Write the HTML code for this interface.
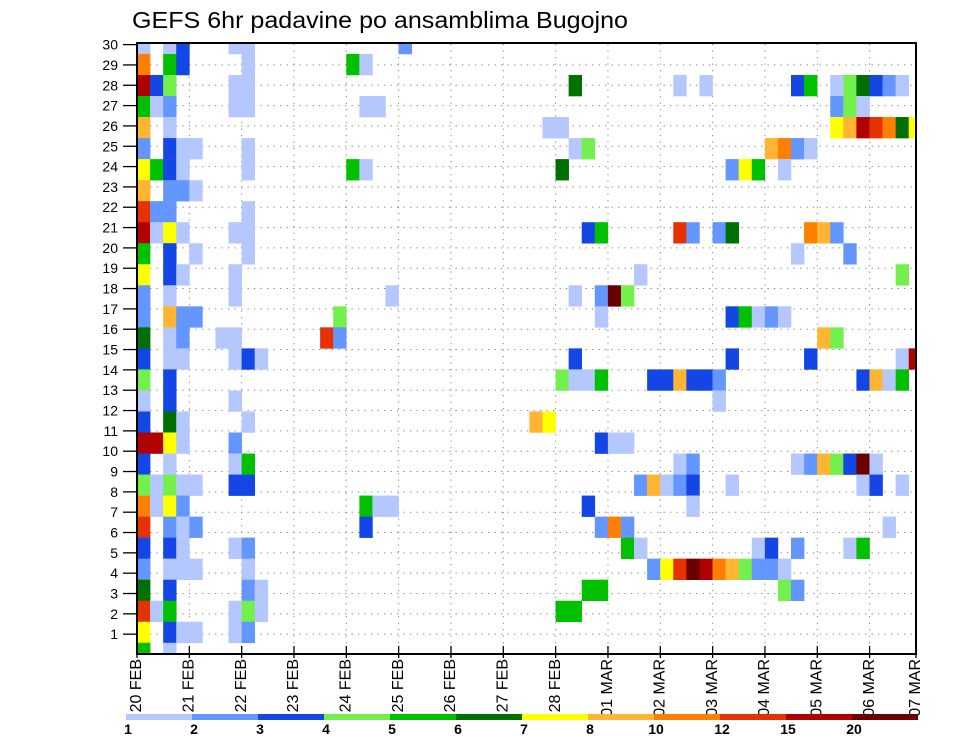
<!DOCTYPE html>
<html><head><meta charset="utf-8"><style>
html,body{margin:0;padding:0;background:#fff;}
svg{display:block;font-family:"Liberation Sans",sans-serif;}
</style></head>
<body>
<svg id="chart" width="960" height="742" viewBox="0 0 960 742" xmlns="http://www.w3.org/2000/svg">
<text x="132" y="28" font-size="23" textLength="496" lengthAdjust="spacingAndGlyphs" fill="#000">GEFS 6hr padavine po ansamblima Bugojno</text>
<defs><clipPath id="plotclip"><rect x="137" y="44" width="779" height="610"/></clipPath></defs>
<g id="grid"></g>
<g id="cellsG" clip-path="url(#plotclip)"></g>
<g id="axes"></g>
<g id="legend"></g>
</svg>
<script>
const dayLabels = ["20 FEB","21 FEB","22 FEB","23 FEB","24 FEB","25 FEB","26 FEB","27 FEB","28 FEB","01 MAR","02 MAR","03 MAR","04 MAR","05 MAR","06 MAR","07 MAR"];
const memberTicks = [1,2,3,4,5,6,7,8,9,10,11,12,13,14,15,16,17,18,19,20,21,22,23,24,25,26,27,28,29,30];
const levelBounds = [1,2,3,4,5,6,7,8,10,12,15,20];
const levelLabels = ["1","2","3","4","5","6","7","8","10","12","15","20"];
const levelColors = ["#b4c8ff","#6496ff","#1446e6","#74f04c","#00c000","#007000","#ffff00","#ffb432","#ff8000","#e63200","#b00000","#6a0000"];
// [member row, 6h step, precip mm]
const cells = [
[29,0,1.5],[29,2,1.5],[29,3,3.5],[29,7,1.5],[29,8,1.5],[29,20,2.5],
[28,0,11],[28,2,5.5],[28,3,3.5],[28,8,1.5],[28,16,5.5],[28,17,1.5],
[27,0,17],[27,1,3.5],[27,2,4.5],[27,7,1.5],[27,8,1.5],[27,33,6.5],[27,41,1.5],[27,43,1.5],[27,50,3.5],[27,51,5.5],[27,53,1.5],[27,54,4.5],[27,55,6.5],[27,56,3.5],[27,57,2.5],[27,58,1.5],
[26,0,5.5],[26,1,1.5],[26,2,2.5],[26,7,1.5],[26,8,1.5],[26,17,1.5],[26,18,1.5],[26,53,2.5],[26,54,4.5],[26,55,1.5],
[25,0,9],[25,2,1.5],[25,31,1.5],[25,32,1.5],[25,53,7.5],[25,54,9],[25,55,17],[25,56,13.5],[25,57,11],[25,58,6.5],[25,59,7.5],
[24,0,2.5],[24,2,3.5],[24,3,1.5],[24,4,1.5],[24,8,1.5],[24,33,1.5],[24,34,4.5],[24,48,9],[24,49,11],[24,50,2.5],[24,51,1.5],
[23,0,7.5],[23,1,5.5],[23,2,3.5],[23,3,1.5],[23,8,1.5],[23,16,5.5],[23,17,1.5],[23,32,6.5],[23,45,2.5],[23,46,7.5],[23,47,5.5],[23,49,1.5],
[22,0,9],[22,2,2.5],[22,3,2.5],[22,4,1.5],
[21,0,13.5],[21,1,2.5],[21,2,2.5],[21,8,1.5],
[20,0,17],[20,1,1.5],[20,2,7.5],[20,3,1.5],[20,7,1.5],[20,8,1.5],[20,34,3.5],[20,35,5.5],[20,41,13.5],[20,42,2.5],[20,44,2.5],[20,45,6.5],[20,51,11],[20,52,9],[20,53,2.5],
[19,0,5.5],[19,2,3.5],[19,4,1.5],[19,8,1.5],[19,50,1.5],[19,54,2.5],
[18,0,7.5],[18,2,3.5],[18,3,1.5],[18,7,1.5],[18,38,1.5],[18,58,4.5],
[17,0,2.5],[17,2,1.5],[17,7,1.5],[17,19,1.5],[17,33,1.5],[17,35,2.5],[17,36,25],[17,37,4.5],
[16,0,2.5],[16,2,9],[16,3,2.5],[16,4,2.5],[16,15,4.5],[16,35,1.5],[16,45,3.5],[16,46,5.5],[16,47,1.5],[16,48,2.5],[16,49,1.5],
[15,0,6.5],[15,2,1.5],[15,3,2.5],[15,6,1.5],[15,7,1.5],[15,14,13.5],[15,15,2.5],[15,52,9],[15,53,4.5],
[14,0,3.5],[14,2,1.5],[14,3,1.5],[14,7,1.5],[14,8,3.5],[14,9,1.5],[14,33,3.5],[14,45,3.5],[14,51,3.5],[14,58,1.5],[14,59,17],
[13,0,4.5],[13,2,3.5],[13,32,4.5],[13,33,1.5],[13,34,1.5],[13,35,5.5],[13,39,3.5],[13,40,3.5],[13,41,9],[13,42,3.5],[13,43,3.5],[13,44,2.5],[13,55,3.5],[13,56,9],[13,57,1.5],[13,58,5.5],
[12,0,1.5],[12,2,3.5],[12,7,1.5],[12,44,1.5],
[11,0,3.5],[11,2,6.5],[11,3,1.5],[11,8,1.5],[11,30,9],[11,31,7.5],
[10,0,17],[10,1,17],[10,2,7.5],[10,3,1.5],[10,7,2.5],[10,35,3.5],[10,36,1.5],[10,37,1.5],
[9,0,3.5],[9,2,1.5],[9,7,1.5],[9,8,5.5],[9,41,1.5],[9,42,2.5],[9,50,1.5],[9,51,2.5],[9,52,9],[9,53,4.5],[9,54,3.5],[9,55,25],[9,56,1.5],
[8,0,4.5],[8,1,1.5],[8,2,4.5],[8,3,1.5],[8,4,1.5],[8,7,3.5],[8,8,3.5],[8,38,2.5],[8,39,9],[8,40,1.5],[8,41,2.5],[8,42,3.5],[8,45,1.5],[8,55,1.5],[8,56,3.5],[8,58,1.5],
[7,0,11],[7,1,1.5],[7,2,7.5],[7,3,2.5],[7,17,5.5],[7,18,1.5],[7,19,1.5],[7,34,3.5],[7,42,1.5],
[6,0,13.5],[6,2,2.5],[6,3,1.5],[6,4,2.5],[6,17,3.5],[6,35,2.5],[6,36,11],[6,37,2.5],[6,57,1.5],
[5,0,3.5],[5,2,3.5],[5,3,1.5],[5,7,1.5],[5,8,2.5],[5,37,5.5],[5,38,1.5],[5,47,1.5],[5,48,3.5],[5,50,2.5],[5,54,1.5],[5,55,5.5],
[4,0,2.5],[4,2,1.5],[4,3,1.5],[4,4,1.5],[4,8,1.5],[4,39,2.5],[4,40,7.5],[4,41,13.5],[4,42,25],[4,43,17],[4,44,11],[4,45,9],[4,46,4.5],[4,47,2.5],[4,48,2.5],[4,49,1.5],
[3,0,6.5],[3,2,3.5],[3,8,2.5],[3,9,1.5],[3,34,5.5],[3,35,5.5],[3,49,4.5],[3,50,2.5],
[2,0,13.5],[2,1,1.5],[2,2,5.5],[2,7,1.5],[2,8,4.5],[2,9,1.5],[2,32,5.5],[2,33,5.5],
[1,0,7.5],[1,2,3.5],[1,3,1.5],[1,4,1.5],[1,7,1.5],[1,8,2.5],
[0,0,5.5],[0,2,1.5]
];
const NS="http://www.w3.org/2000/svg";
const X0=137, X1=916, Y0=44, Y1=654;
const stepW=13.08, dayW=52.33, rowH=21.03;
function xStep(s){return X0+s*stepW;}
function xDay(d){return Math.min(X0+d*dayW, X1);}
function yRow(m){return 653.3-m*rowH;}
function yTick(t){return 654.5-t*20.33;}
function colorOf(v){let i=0;for(let k=0;k<levelBounds.length;k++){if(v>=levelBounds[k])i=k;}return levelColors[i];}
function mk(tag,attrs,parent){const e=document.createElementNS(NS,tag);for(const k in attrs)e.setAttribute(k,attrs[k]);parent.appendChild(e);return e;}
const grid=document.getElementById('grid'), cg=document.getElementById('cellsG'), ax=document.getElementById('axes'), lg=document.getElementById('legend');
// grid
for(let d=1;d<dayLabels.length-1;d++){
  const l=mk('line',{x1:xDay(d),x2:xDay(d),y1:Y0,y2:Y1,stroke:'#888','stroke-width':1,'stroke-dasharray':'1.3 5.2'},grid);
  
  
}
memberTicks.forEach(t=>{
  if(t>=30)return;
  const l=mk('line',{x1:X0,x2:X1,y1:yTick(t),y2:yTick(t),stroke:'#888','stroke-width':1,'stroke-dasharray':'1.3 5.2'},grid);
  
  
});
// cells
cells.forEach(c=>{
  const r=mk('rect',{x:xStep(c[1]),y:yRow(c[0])-rowH/2,width:stepW+0.3,height:rowH+0.3,fill:colorOf(c[2])},cg);
  
  
});
// frame
const fr=mk('rect',{x:X0,y:Y0-1,width:X1-X0,height:Y1-Y0+1,fill:'none',stroke:'#000','stroke-width':2},ax);


// y ticks + labels
memberTicks.forEach(t=>{
  const y=yTick(t);
  const tk=mk('line',{x1:123,x2:138,y1:y,y2:y,stroke:'#000','stroke-width':1.3},ax);
  
  
  const tx=mk('text',{x:118,y:y+5,'font-size':14,'text-anchor':'end',fill:'#000'},ax);
  tx.textContent=t;
  
  
});
// x ticks + labels
dayLabels.forEach((lab,d)=>{
  const x=xDay(d);
  const tk=mk('line',{x1:x,x2:x,y1:646,y2:658,stroke:'#000','stroke-width':1.3},ax);
  
  
  const tx=mk('text',{x:0,y:0,'font-size':16,'text-anchor':'end','dominant-baseline':'middle',fill:'#000',transform:'translate('+x+',659) rotate(-90)'},ax);
  tx.textContent=lab;
  
  
});
// legend
const LX=126, LW=66;
levelColors.forEach((col,i)=>{
  const r=mk('rect',{x:LX+i*LW,y:714,width:LW,height:6,fill:col},lg);
  
  
  const t=mk('text',{x:LX+i*LW+2,y:734,'font-size':14,'font-weight':'bold','text-anchor':'middle',fill:'#000'},lg);
  t.textContent=levelLabels[i];
  
  
});
</script>
</body></html>
